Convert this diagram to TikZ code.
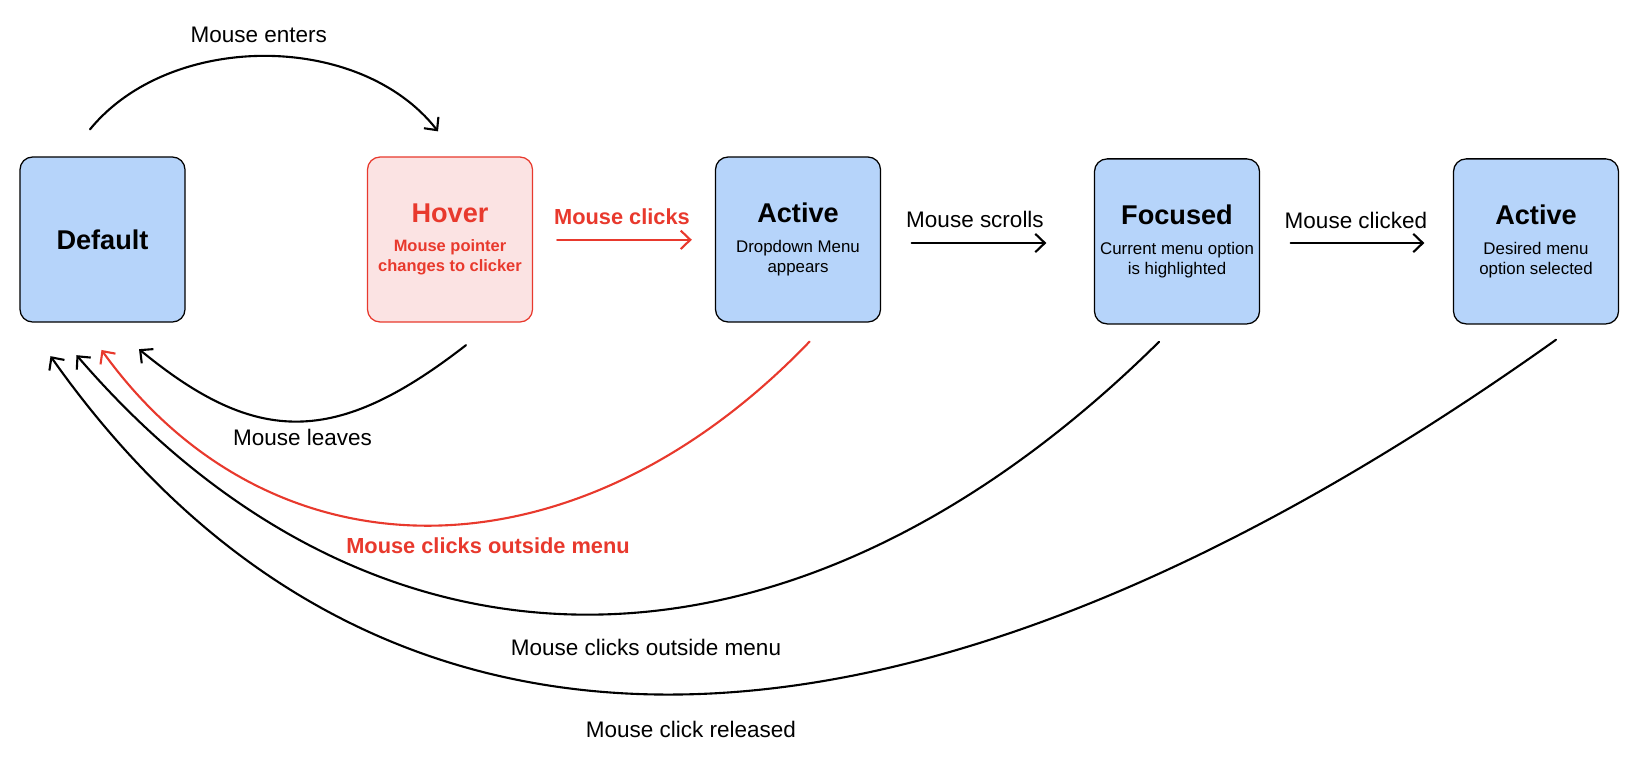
\documentclass[tikz,border=0pt]{standalone}
\usepackage{fontspec}
\setmainfont{Liberation Sans}
\usetikzlibrary{arrows.meta}
\definecolor{boxblue}{HTML}{B6D4FA}
\definecolor{hovpink}{HTML}{FBE3E3}
\definecolor{alertred}{HTML}{E8392D}
\tikzset{
  state/.style={draw=black, line width=0.9pt, fill=boxblue, rounded corners=9pt,
    minimum width=4.125cm, minimum height=4.125cm, inner sep=0pt, align=center,
    font=\fontsize{12}{14.4}\selectfont},
  hovstate/.style={state, draw=alertred, fill=hovpink, text=alertred,
    font=\fontsize{11.7}{14.4}\selectfont\bfseries},
  arr/.style={line width=1.5pt, line cap=round, -{Straight Barb[length=2.4mm,width=4.6mm]}},
  redarr/.style={arr, draw=alertred},
  lbl/.style={font=\fontsize{16}{19}\selectfont, inner sep=0pt},
  redlbl/.style={lbl, text=alertred, font=\fontsize{15.5}{18}\selectfont\bfseries},
}
\newcommand{\statetitle}[1]{{\fontsize{19.3}{20}\selectfont\bfseries #1}}

\begin{document}
\begin{tikzpicture}[x=0.025cm, y=-0.025cm]
        \useasboundingbox (0,0) rectangle (1642,762);
        % states
        \node (def) [state] at (102.5, 239.5) {\statetitle{Default}};
        \node (hov) [hovstate] at (450, 239.5) {\statetitle{Hover}\\[6.6pt]Mouse pointer\\changes to clicker};
        \node (act) [state] at (798, 239.5) {\statetitle{Active}\\[6.6pt]Dropdown Menu\\appears};
        \node (foc) [state] at (1177, 241.4) {\statetitle{Focused}\\[6.6pt]Current menu option\\is highlighted};
        \node (sel) [state] at (1536, 241.4) {\statetitle{Active}\\[6.6pt]Desired menu\\option selected};
        % labels
        \node (lenter) [lbl] at (258.7, 34.6) {Mouse enters};
        \node (lclick) [redlbl] at (622, 216.8) {Mouse clicks};
        \node (lscroll) [lbl] at (975, 219) {Mouse scrolls};
        \node (lclicked) [lbl] at (1356, 220) {Mouse clicked};
        \node (lleave) [lbl] at (302.6, 437.7) {Mouse leaves};
        \node (loutred) [redlbl] at (488, 545.6) {Mouse clicks outside menu};
        \node (lout) [lbl] at (646, 647) {Mouse clicks outside menu};
        \node (lrel) [lbl] at (691, 729) {Mouse click released};
        % transitions
        \draw [arr] ([shift={(-12.5,-27)}]def.north) .. controls +(80,-98) and +(-78,-100) .. ([shift={(-12,-25)}]hov.north);
        \draw [redarr] ([shift={(24,0.3)}]hov.east) -- ([shift={(-23,0.3)}]act.west);
        \draw [arr] ([shift={(30.5,3.5)}]act.east) -- ([shift={(-47.5,1.6)}]foc.west);
        \draw [arr] ([shift={(30.5,1.6)}]foc.east) -- ([shift={(-28.5,1.6)}]sel.west);
        \draw [arr] ([shift={(16,22.5)}]hov.south) .. controls +(-130,101) and +(118,97) .. ([shift={(36.5,26.5)}]def.south);
        \draw [redarr] ([shift={(11.5,19)}]act.south) .. controls +(-234,244) and +(169,235) .. ([shift={(-1,27.3)}]def.south);
        \draw [arr] ([shift={(-18,17.3)}]foc.south) .. controls +(-365,361) and +(300,348) .. ([shift={(-26,32.5)}]def.south);
        \draw [arr] ([shift={(20,15.2)}]sel.south) .. controls +(-660,470) and +(320,453.5) .. ([shift={(-52,33.5)}]def.south);
\end{tikzpicture}
\end{document}
